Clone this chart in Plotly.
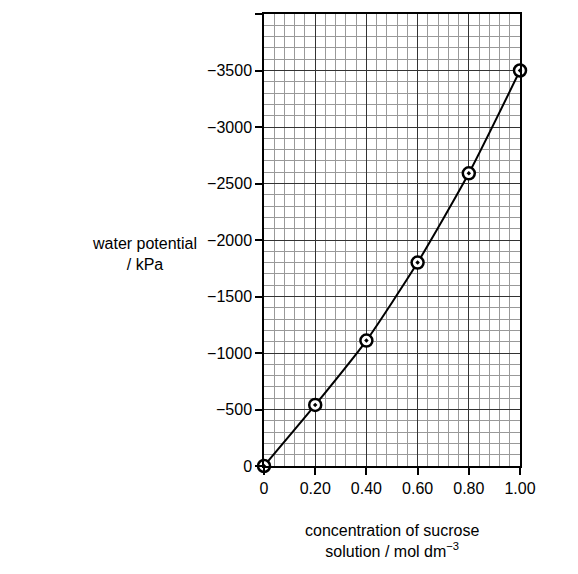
import plotly.graph_objects as go

concentration = [0, 0.20, 0.40, 0.60, 0.80, 1.00]
water_potential = [0, -540, -1110, -1800, -2590, -3500]

x_ticks = [0, 0.2, 0.4, 0.6, 0.8, 1.0]
x_labels = ["0", "0.20", "0.40", "0.60", "0.80", "1.00"]

fig = go.Figure()
fig.add_trace(go.Scatter(
    x=concentration, y=water_potential,
    mode="lines",
    line=dict(color="black", width=2, shape="spline", smoothing=0.6),
    hoverinfo="skip"
))
fig.add_trace(go.Scatter(
    x=concentration, y=water_potential,
    mode="markers",
    marker=dict(symbol="circle-dot", size=12, color="white",
                line=dict(color="black", width=2.5)),
    cliponaxis=False
))

axis_common = dict(
    showline=True, linecolor="black", linewidth=1.5, mirror=True,
    ticks="outside", ticklen=7, tickcolor="black", tickwidth=1.5,
    showgrid=True, gridcolor="#333", gridwidth=1,
    zeroline=False,
    tickfont=dict(family="Liberation Sans, Arial", size=16, color="black"),
)

fig.update_xaxes(
    range=[0, 1.0], tickvals=x_ticks, ticktext=x_labels,
    minor=dict(dtick=0.04, showgrid=True, gridcolor="#999", gridwidth=0.6, ticks=""),
    **axis_common
)
fig.update_yaxes(
    range=[0, -4000], dtick=500, tickformat="d",
    minor=dict(dtick=100, showgrid=True, gridcolor="#999", gridwidth=0.6, ticks=""),
    **axis_common
)

fig.add_annotation(
    text="water potential<br>/ kPa", xref="paper", yref="paper",
    x=0, xanchor="center", xshift=-120, y=0.47, showarrow=False, align="center",
    font=dict(family="Liberation Sans, Arial", size=16, color="black")
)
fig.add_annotation(
    text="concentration of sucrose<br>solution / mol dm<sup>−3</sup>",
    xref="paper", yref="paper", x=0.5, y=-0.12, yanchor="top",
    showarrow=False, align="center",
    font=dict(family="Liberation Sans, Arial", size=16, color="black")
)

fig.update_layout(
    width=578, height=574,
    margin=dict(l=256, r=66, t=4, b=116),
    plot_bgcolor="white", paper_bgcolor="white",
    showlegend=False,
)

fig.write_html("out.html")
